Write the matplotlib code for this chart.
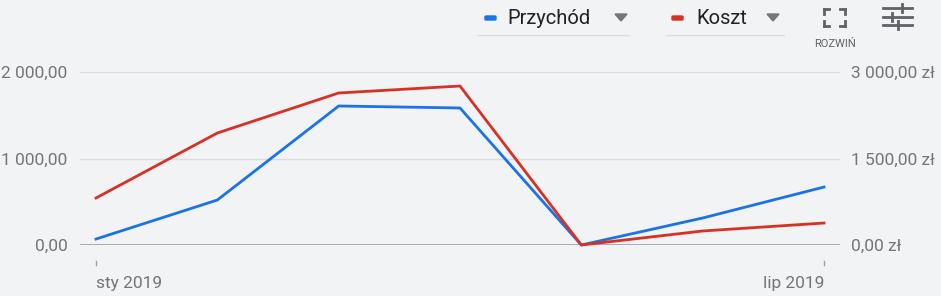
import matplotlib.pyplot as plt
from matplotlib.patches import FancyBboxPatch, Polygon

plt.rcParams['font.family'] = ['Roboto', 'DejaVu Sans']

miesiace = ['sty 2019', 'lut 2019', 'mar 2019', 'kwi 2019', 'maj 2019', 'cze 2019', 'lip 2019']
przychod = [69, 520, 1607, 1584, 0, 312, 670]
koszt = [815, 1942, 2636, 2757, 0, 243, 381]
lewe_ticki = [0, 1000, 2000]
lewe_etykiety = ['0,00', '1 000,00', '2 000,00']
prawe_ticki = [0, 1500, 3000]
prawe_etykiety = ['0,00 zł', '1 500,00 zł', '3 000,00 zł']

tlo = '#f1f3f4'
niebieski = '#1a73e8'
czerwony = '#d93025'
szary = '#757575'

W, H = 941, 296
fig = plt.figure(figsize=(W / 100, H / 100), dpi=100, facecolor=tlo)

# osie: od x=80 do 840 px, od y=72 (2000) do y=245 (0)
ax = fig.add_axes([80 / W, 1 - 245 / H, 760 / W, 173 / H])
ax.set_facecolor(tlo)
x = list(range(len(miesiace)))
ax.set_xlim(-0.132, 6.132)
ax.set_ylim(0, 2000)

ax2 = ax.twinx()
ax2.set_ylim(0, 3000)

for a in (ax, ax2):
    for s in a.spines.values():
        s.set_visible(False)

for t in [1000, 2000]:
    ax.axhline(t, color='#dadce0', lw=1, zorder=1)
ax.axhline(0, color='#9aa0a6', lw=1.2, zorder=1)

ax.plot(x, przychod, color=niebieski, lw=2, zorder=3, clip_on=False)
ax2.plot(x, koszt, color=czerwony, lw=2, zorder=3, clip_on=False)

ax.set_yticks(lewe_ticki)
ax.set_yticklabels(lewe_etykiety)
ax.tick_params(axis='y', length=0, pad=9, labelsize=12.5, labelcolor=szary)
ax2.set_yticks(prawe_ticki)
ax2.set_yticklabels(prawe_etykiety)
ax2.tick_params(axis='y', length=0, pad=8, labelsize=12.5, labelcolor=szary)

ax.set_xticks([x[0], x[-1]])
ax.set_xticklabels([miesiace[0], miesiace[-1]])
ax.tick_params(axis='x', length=0, pad=22, labelsize=12.5, labelcolor=szary)
for lab, ha in zip(ax.get_xticklabels(), ['left', 'right']):
    lab.set_ha(ha)

# małe kreski pod osią, oddzielone od linii zera
for xi in [x[0], x[-1]]:
    ax.plot([xi, xi], [-185, -235], color='#9aa0a6', lw=1, clip_on=False)


def px(xp, yp):
    return xp / W, 1 - yp / H


# legenda u góry
def legenda(x0, x1, kolor, tekst, xt, xtri):
    fig.patches.append(FancyBboxPatch(px(x0, 20), 11 / W, 4 / H,
                                      boxstyle='round,pad=0,rounding_size=0.002',
                                      transform=fig.transFigure, color=kolor))
    fig.text(*px(xt, 18), tekst, fontsize=14.5, color='#202124', va='center', ha='left')
    tri = Polygon([px(xtri - 6, 14), px(xtri + 6, 14), px(xtri, 21)], closed=True,
                  transform=fig.transFigure, color='#757575')
    fig.patches.append(tri)
    fig.lines.append(plt.Line2D([x1[0] / W, x1[1] / W], [1 - 35 / H] * 2,
                                transform=fig.transFigure, color='#dadce0', lw=1))


legenda(485, (478, 628), niebieski, 'Przychód', 507, 621)
legenda(672, (667, 784), czerwony, 'Koszt', 696, 773)

# ikona rozwiń
for cx, cy, dx, dy in [(824, 9, 1, 1), (845, 9, -1, 1), (824, 26, 1, -1), (845, 26, -1, -1)]:
    fig.lines.append(plt.Line2D([cx / W, cx / W], [1 - cy / H, 1 - (cy + dy * 5) / H],
                                transform=fig.transFigure, color='#5f6368', lw=2))
    fig.lines.append(plt.Line2D([cx / W, (cx + dx * 5) / W], [1 - cy / H] * 2,
                                transform=fig.transFigure, color='#5f6368', lw=2))
fig.text(*px(835, 44), 'ROZWIŃ', fontsize=8, color='#5f6368', ha='center', va='center')

# ikona suwaków
for yy, xa, xb in [(8, 883, 912), (17, 883, 912), (25, 883, 912)]:
    fig.lines.append(plt.Line2D([xa / W, xb / W], [1 - yy / H] * 2,
                                transform=fig.transFigure, color='#5f6368', lw=2))
for xx, ya, yb in [(902, 4, 12), (892, 13, 21), (898, 21, 29)]:
    fig.lines.append(plt.Line2D([xx / W] * 2, [1 - ya / H, 1 - yb / H],
                                transform=fig.transFigure, color='#5f6368', lw=2))

fig.savefig('out.png', dpi=100, facecolor=tlo)
